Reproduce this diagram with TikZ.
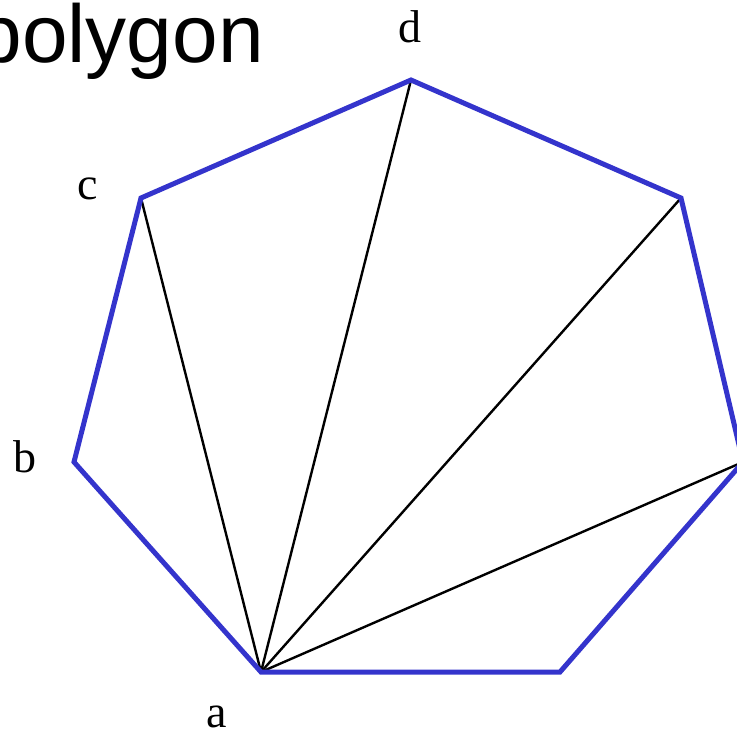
\documentclass[tikz,border=0pt]{standalone}
\usepackage{fontspec}
\setmainfont{Liberation Serif}
\newfontfamily\titlefont{Liberation Sans}
\usepackage{xcolor}
\usetikzlibrary{positioning}
\definecolor{edgeblue}{HTML}{3434CC}
\tikzset{
  edgeline/.style={draw=edgeblue, line width=5pt, line join=miter},
  diagline/.style={draw=black, line width=2.4pt},
  vlabel/.style={inner sep=0pt, anchor=base, font=\fontsize{46}{46}\selectfont},
  titletext/.style={inner sep=0pt, anchor=base east, font=\titlefont\fontsize{82}{82}\selectfont}
}
\begin{document}
\begin{tikzpicture}[x=1pt, y=-1pt]
  \useasboundingbox (0,0) rectangle (737,732);
  \node[titletext] (title) at (264,62) {polygon};
  \coordinate (a) at (261,672);
  \coordinate (b) at (74,462);
  \coordinate (c) at (141,198);
  \coordinate (d) at (411,80);
  \coordinate (e) at (681,198);
  \coordinate (f) at (743,462);
  \coordinate (g) at (560,672);
  \draw[diagline] (a) -- (c);
  \draw[diagline] (a) -- (d);
  \draw[diagline] (a) -- (e);
  \draw[diagline] (a) -- (f);
  \draw[edgeline] (a) -- (b) -- (c) -- (d) -- (e) -- (f) -- (g) -- cycle;
  \node[vlabel] (la) at (217,727) {a};
  \node[vlabel] (lb) at (25,472) {b};
  \node[vlabel] (lc) at (88,199) {c};
  \node[vlabel] (ld) at (410,42) {d};
\end{tikzpicture}
\end{document}
